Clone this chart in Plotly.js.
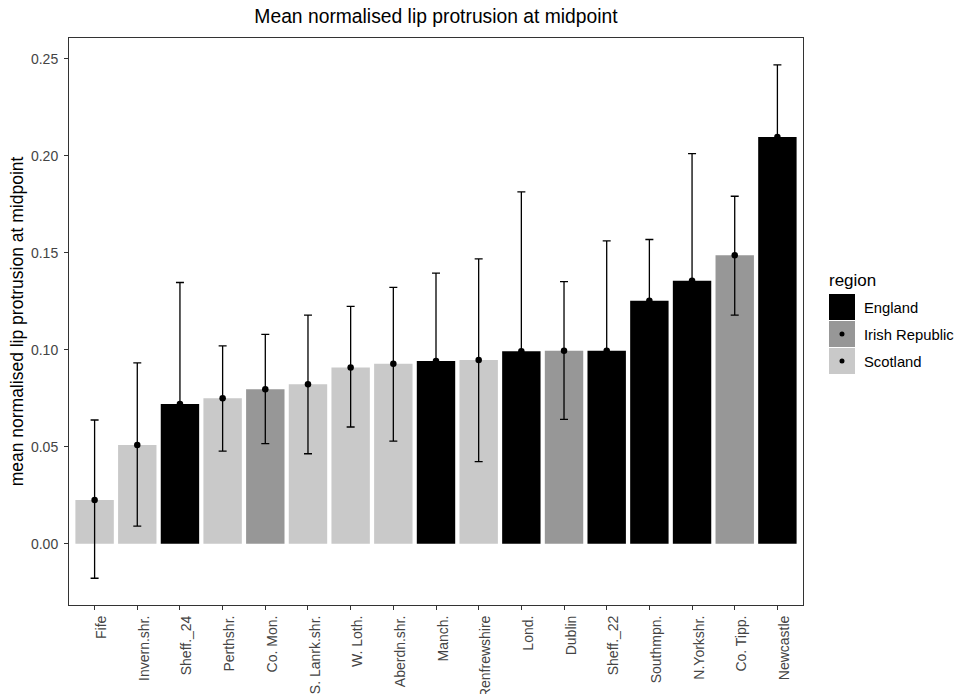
<!DOCTYPE html>
<html>
<head>
<meta charset="utf-8">
<script src="https://cdn.plot.ly/plotly-3.0.1.min.js"></script>
<style>
  html, body { margin: 0; padding: 0; background: #ffffff; }
  #chart { width: 958px; height: 694px; }
</style>
</head>
<body>
<div id="chart"></div>
<script>
// Locations, ordered by mean lip protrusion
const categories = ["Fife", "Invern.shr.", "Sheff._24", "Perthshr.", "Co. Mon.", "S. Lanrk.shr.",
  "W. Loth.", "Aberdn.shr.", "Manch.", "Renfrewshire", "Lond.", "Dublin", "Sheff._22",
  "Southmpn.", "N.Yorkshr.", "Co. Tipp.", "Newcastle"];

const regionOf = ["Scotland", "Scotland", "England", "Scotland", "Irish Republic", "Scotland",
  "Scotland", "Scotland", "England", "Scotland", "England", "Irish Republic", "England",
  "England", "England", "Irish Republic", "England"];

// Mean normalised lip protrusion at midpoint
const meanValues = [0.0225, 0.0509, 0.0720, 0.0750, 0.0797, 0.0823, 0.0909, 0.0928, 0.0942,
  0.0947, 0.0993, 0.0995, 0.0995, 0.1253, 0.1356, 0.1488, 0.2098];

// Upper and lower interval bounds
const upperBound = [0.0638, 0.0933, 0.1347, 0.1020, 0.1080, 0.1179, 0.1224, 0.1322, 0.1395,
  0.1469, 0.1814, 0.1352, 0.1562, 0.1569, 0.2012, 0.1792, 0.2469];
const lowerBound = [-0.0178, 0.0091, 0.0093, 0.0478, 0.0516, 0.0464, 0.0602, 0.0529, 0.0489,
  0.0423, 0.0172, 0.0641, 0.0428, 0.0937, 0.0700, 0.1179, 0.1727];

const regions = ["England", "Irish Republic", "Scotland"];
const regionColors = { "England": "#000000", "Irish Republic": "#979797", "Scotland": "#c9c9c9" };
const regionHasDot = { "England": false, "Irish Republic": true, "Scotland": true };

const FONT = "Liberation Sans, Arial, sans-serif";

const bars = {
  type: "bar",
  x: categories,
  y: meanValues,
  width: 0.9,
  marker: { color: regionOf.map(r => regionColors[r]), line: { width: 0 } },
  showlegend: false,
  hoverinfo: "x+y"
};

const points = {
  type: "scatter",
  mode: "markers",
  x: categories,
  y: meanValues,
  marker: { color: "#000000", size: 6.5 },
  error_y: {
    type: "data",
    symmetric: false,
    array: upperBound.map((u, i) => u - meanValues[i]),
    arrayminus: meanValues.map((m, i) => m - lowerBound[i]),
    color: "#000000",
    thickness: 1.3,
    width: 4
  },
  showlegend: false,
  hoverinfo: "skip"
};

// Plot area geometry (pixels) used to place the legend in paper coordinates
const W = 958, H = 694;
const M = { l: 69, r: 155, t: 38, b: 89 };
const pw = W - M.l - M.r, ph = H - M.t - M.b;
const px = x => (x - M.l) / pw;
const py = y => (H - M.b - y) / ph;

const shapes = [];
const annotations = [];

annotations.push({
  xref: "paper", yref: "paper", x: px(827), y: py(280),
  xanchor: "left", yanchor: "middle", showarrow: false,
  text: "region", font: { family: FONT, size: 17, color: "#000000" }
});

regions.forEach((r, i) => {
  const top = 294 + i * 27;
  shapes.push({
    type: "rect", xref: "paper", yref: "paper",
    x0: px(829), x1: px(855), y0: py(top + 26), y1: py(top),
    fillcolor: regionColors[r], line: { width: 0 }
  });
  if (regionHasDot[r]) {
    shapes.push({
      type: "circle", xref: "paper", yref: "paper",
      x0: px(839.5), x1: px(844.5), y0: py(top + 15.5), y1: py(top + 10.5),
      fillcolor: "#000000", line: { width: 0 }
    });
  }
  annotations.push({
    xref: "paper", yref: "paper", x: px(862), y: py(top + 14),
    xanchor: "left", yanchor: "middle", showarrow: false,
    text: r, font: { family: FONT, size: 14.8, color: "#000000" }
  });
});

const layout = {
  width: W, height: H,
  margin: M,
  paper_bgcolor: "#ffffff",
  plot_bgcolor: "#ffffff",
  font: { family: FONT, size: 14, color: "#4d4d4d" },
  title: {
    text: "Mean normalised lip protrusion at midpoint",
    x: 0.5 * (M.l + (W - M.r)) / W, xanchor: "center",
    y: 1 - 16 / H, yanchor: "middle",
    font: { family: FONT, size: 19.3, color: "#000000" }
  },
  xaxis: {
    type: "category",
    range: [-0.6, 16.6],
    tickangle: -90,
    ticklabelshift: 7,
    ticks: "outside", ticklen: 4, tickwidth: 1, tickcolor: "#333333",
    showline: true, linecolor: "#333333", linewidth: 1, mirror: true,
    showgrid: false, zeroline: false,
    tickfont: { family: FONT, size: 14, color: "#444444" },
    automargin: false
  },
  yaxis: {
    range: [-0.0316, 0.2608],
    tickvals: [0, 0.05, 0.10, 0.15, 0.20, 0.25],
    ticktext: ["0.00", "0.05", "0.10", "0.15", "0.20", "0.25"],
    ticks: "outside", ticklen: 4, tickwidth: 1, tickcolor: "#333333",
    ticklabelstandoff: 3,
    showline: true, linecolor: "#333333", linewidth: 1, mirror: true,
    showgrid: false, zeroline: false,
    tickfont: { family: FONT, size: 14, color: "#444444" },
    title: {
      text: "mean normalised lip protrusion at midpoint",
      standoff: 2,
      font: { family: FONT, size: 17.5, color: "#000000" }
    },
    automargin: false
  },
  bargap: 0.1,
  shapes: shapes,
  annotations: annotations,
  showlegend: false
};

Plotly.newPlot("chart", [bars, points], layout, { displayModeBar: false, staticPlot: true });
</script>
</body>
</html>
